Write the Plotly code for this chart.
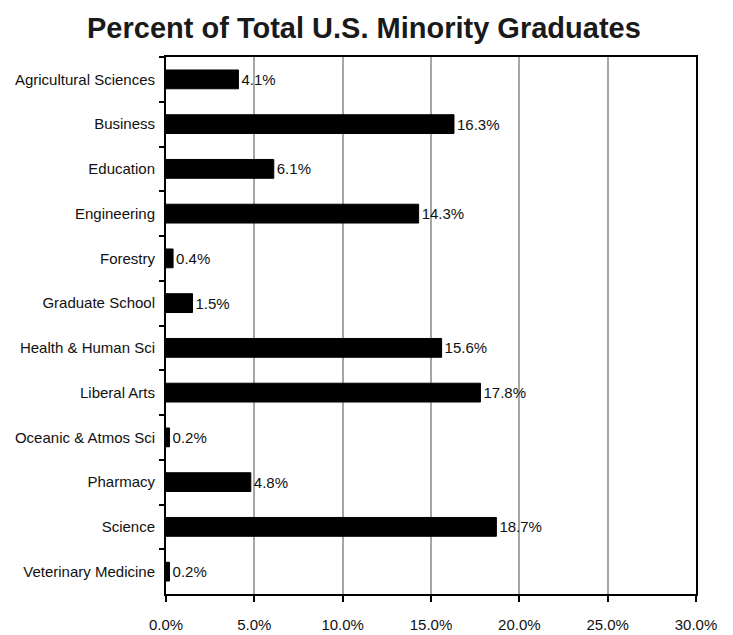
"""Porcentaje del total de graduados de minorías en EE.UU., por colegio."""

import plotly.graph_objects as go

colegios = [
    "Agricultural Sciences",
    "Business",
    "Education",
    "Engineering",
    "Forestry",
    "Graduate School",
    "Health & Human Sci",
    "Liberal Arts",
    "Oceanic & Atmos Sci",
    "Pharmacy",
    "Science",
    "Veterinary Medicine",
]
porcentajes = [4.1, 16.3, 6.1, 14.3, 0.4, 1.5, 15.6, 17.8, 0.2, 4.8, 18.7, 0.2]

x_ticks = [0, 5, 10, 15, 20, 25, 30]
x_tick_labels = ["0.0%", "5.0%", "10.0%", "15.0%", "20.0%", "25.0%", "30.0%"]

FUENTE = "Liberation Sans, Arial, sans-serif"

fig = go.Figure(
    go.Bar(
        x=porcentajes,
        y=colegios,
        orientation="h",
        marker=dict(color="black", line=dict(color="black", width=1)),
        text=[f"{v:.1f}%" for v in porcentajes],
        textposition="outside",
        textfont=dict(family=FUENTE, size=15, color="#111111"),
        cliponaxis=False,
        hoverinfo="x+y",
    )
)

fig.update_layout(
    title=dict(
        text="<b>Percent of Total U.S. Minority Graduates</b>",
        x=0.4965,
        xanchor="center",
        y=0.956,
        yanchor="middle",
        font=dict(family=FUENTE, size=29, color="#1a1a1a"),
    ),
    width=733,
    height=635,
    margin=dict(l=166, r=37, t=57, b=41, autoexpand=False),
    paper_bgcolor="white",
    plot_bgcolor="white",
    bargap=0.58,
    showlegend=False,
    font=dict(family=FUENTE, size=15, color="#111111"),
    xaxis=dict(
        range=[0, 30],
        tickvals=x_ticks,
        ticktext=x_tick_labels,
        automargin=False,
        showgrid=True,
        gridcolor="#a6a6a6",
        gridwidth=1.5,
        zeroline=False,
        showline=True,
        linecolor="black",
        linewidth=2,
        mirror=True,
        ticks="outside",
        ticklen=6,
        tickcolor="black",
        tickwidth=1.5,
        ticklabelstandoff=10,
        tickfont=dict(family=FUENTE, size=15, color="#111111"),
    ),
    yaxis=dict(
        autorange="reversed",
        automargin=False,
        showgrid=False,
        showline=True,
        linecolor="black",
        linewidth=2,
        mirror=True,
        ticks="outside",
        tickson="boundaries",
        ticklen=5,
        tickcolor="black",
        tickwidth=1.5,
        ticklabelstandoff=6,
        tickfont=dict(family=FUENTE, size=15, color="#111111"),
    ),
)

# Quitar el margen por defecto del <body> para que la figura llene la ventana
fig.write_html(
    "out.html",
    config={"displayModeBar": False},
    post_script="document.body.style.margin = '0';",
)
